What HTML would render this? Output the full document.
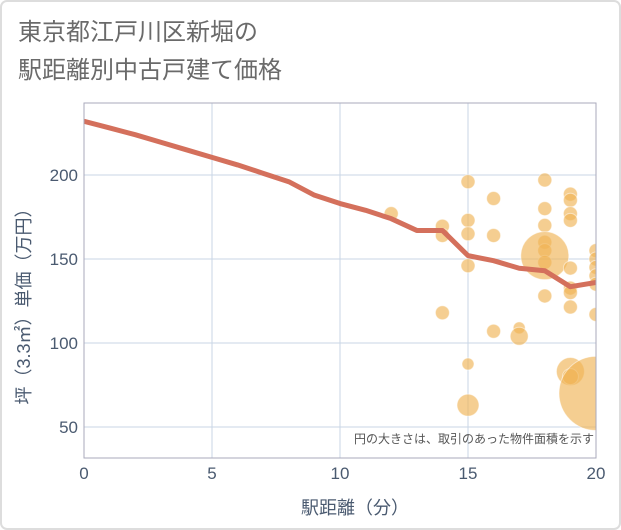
<!DOCTYPE html>
<html><head><meta charset="utf-8"><style>
body{margin:0;background:#fff;font-family:"Liberation Sans","Noto Sans CJK JP",sans-serif}
#wrap{position:relative;width:621px;height:530px;overflow:hidden}
</style></head><body>
<div id="wrap">
<svg id="chart" width="621" height="530" xmlns="http://www.w3.org/2000/svg">
<rect x="1" y="1" width="619" height="528" rx="6" fill="#fff" stroke="#ddd" stroke-width="2"/>
<text x="18" y="40" font-size="24" fill="#6a6a6a">東京都江戸川区新堀の</text>
<text x="18" y="78" font-size="24" fill="#6a6a6a">駅距離別中古戸建て価格</text>
<defs><clipPath id="pc"><rect x="84" y="103" width="512" height="355"/></clipPath></defs>
<g id="grid"></g>
<g id="bubbles" clip-path="url(#pc)"></g>
<g id="line" clip-path="url(#pc)"></g>
<rect x="84" y="103" width="512" height="355" fill="none" stroke="#aab" stroke-width="1"/>
<g id="axes"></g>
<text x="594" y="443" font-size="12" fill="#555" text-anchor="end">円の大きさは、取引のあった物件面積を示す</text>
<text x="355" y="514" font-size="18" fill="#4a5a70" text-anchor="middle">駅距離（分）</text>
<text transform="translate(30,302) rotate(-90)" font-size="18" fill="#4a5a70" text-anchor="middle">坪（3.3㎡）単価（万円）</text>
</svg>
</div>
<script>
const xTicks=[0,5,10,15,20];
const yTicks=[50,100,150,200];
const lineX=[0,1,2,3,4,5,6,7,8,9,10,11,12,13,14,15,16,17,18,19,20];
const lineY=[232,228,224,219.5,215,210.5,206,201,196,188,183,179,174,167,167,152,149,144.5,143,133.5,136];
const bubX=[12,14,14,14,15,15,15,15,15,15,16,16,16,17,17,18,18,18,18,18,18,18,18,19,19,19,19,19,19,19,19,19,19,20,20,20,20,20,20,20];
const bubY=[177,169.5,164,118,196,173,165,146,87.5,63,186,164,107,109,104,197,180,170,160,155,148,128,152,188.6,185,177,173,144.6,132.7,130,121.4,83,80,155,150,145,140,135,117,70];
const bubR=[7,7,7,7,7,7,7,7,6,11,7,7,7,6,9,7,7,7,7,7,7,7,24,7,7,7,7,7,7,7,7,14,8,7,7,7,7,7,7,37];
const X0=84,X1=596,Y0=458,Y1=103;
const sx=v=>X0+(v-0)/(20-0)*(X1-X0);
const sy=v=>175+(200-v)*1.68;
const NS='http://www.w3.org/2000/svg';
const mk=(t,a,p)=>{const e=document.createElementNS(NS,t);for(const k in a)e.setAttribute(k,a[k]);p.appendChild(e);return e;};
const grid=document.getElementById('grid'),axes=document.getElementById('axes');
xTicks.forEach(t=>{
 const l=mk('line',{x1:sx(t),x2:sx(t),y1:Y1,y2:Y0,stroke:'#c8d6e6','stroke-width':1},grid);
 
 
 const tx=mk('text',{x:sx(t),y:479,'font-size':17,fill:'#4a5a70','text-anchor':'middle'},axes);
 tx.textContent=t;
 
 
});
yTicks.forEach(t=>{
 const l=mk('line',{x1:X0,x2:X1,y1:sy(t),y2:sy(t),stroke:'#c8d6e6','stroke-width':1},grid);
 
 
 const tx=mk('text',{x:78,y:sy(t)+6,'font-size':17,fill:'#4a5a70','text-anchor':'end'},axes);
 tx.textContent=t;
 
 
});
const bg=document.getElementById('bubbles');
bubX.forEach((x,i)=>{
 const c=mk('circle',{cx:sx(x),cy:sy(bubY[i]),r:bubR[i],fill:'#f0b356','fill-opacity':0.65,stroke:'#fff','stroke-opacity':0.5,'stroke-width':1},bg);
 
 
});
const pts=lineX.map((x,i)=>sx(x)+','+sy(lineY[i])).join(' ');
const pl=mk('polyline',{points:pts,fill:'none',stroke:'#d4705c','stroke-width':5,'stroke-linejoin':'round'},document.getElementById('line'));


</script>
</body></html>
